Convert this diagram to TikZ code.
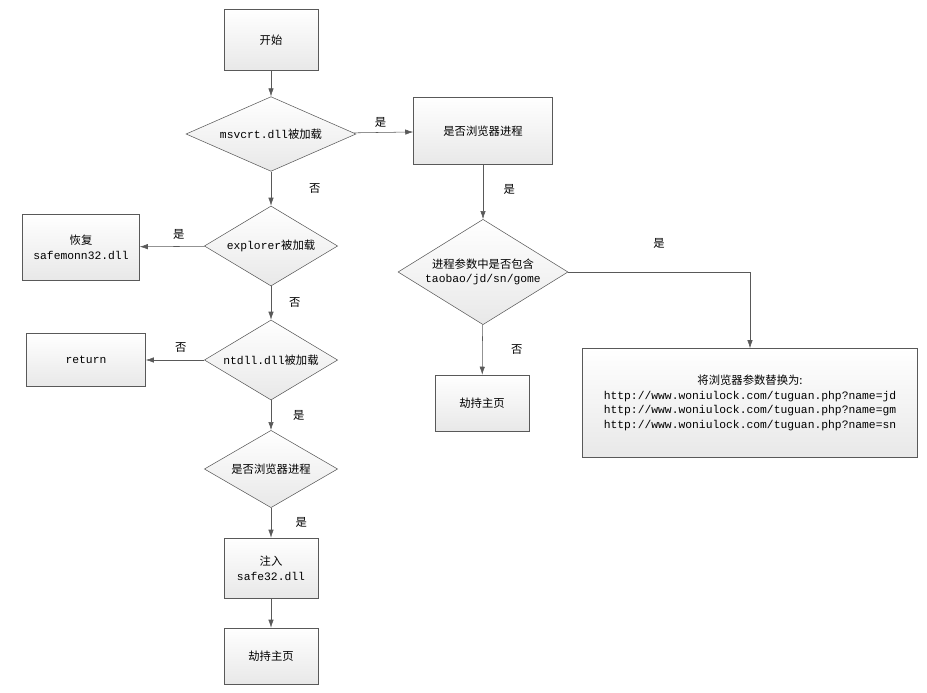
\documentclass[tikz,border=0pt]{standalone}
\usepackage{fontspec}
\setmainfont{Liberation Mono}
\newfontfamily\cjk{Noto Sans CJK SC}
\usetikzlibrary{shapes.geometric,arrows.meta}
\begin{document}
\begin{tikzpicture}[x=0.75pt,y=-0.75pt,font=\fontsize{8.5}{11}\selectfont,
  box/.style={draw=gray!70!black,top color=white,bottom color=gray!18,inner sep=0pt,align=center},
  dia/.style={draw=gray!70!black,diamond,aspect=1.7,top color=white,bottom color=gray!18,inner sep=0pt,align=center},
  flow/.style={draw=gray!70!black,-{Latex[length=6pt,width=4pt]}},
  lab/.style={font=\cjk\fontsize{8.5}{11}\selectfont}]
\useasboundingbox (0,0) rectangle (927,692);
% left column
\node[box,minimum width=70.5pt,minimum height=45.75pt] (start) at (271,40) {\cjk 开始};
\node[dia,minimum width=127.5pt,minimum height=56pt] (msv) at (271,134) {msvcrt.dll{\cjk 被加载}};
\node[dia,minimum width=100pt,minimum height=60pt] (exp) at (271,246) {explorer{\cjk 被加载}};
\node[box,minimum width=87.75pt,minimum height=49.5pt] (rec) at (81,247) {{\cjk 恢复}\\safemonn32.dll};
\node[dia,minimum width=100pt,minimum height=60pt] (ntd) at (271,360) {ntdll.dll{\cjk 被加载}};
\node[box,minimum width=89.25pt,minimum height=39.75pt] (ret) at (86,360) {return};
\node[dia,minimum width=100pt,minimum height=58pt] (brw) at (271,469) {\cjk 是否浏览器进程};
\node[box,minimum width=70.5pt,minimum height=45pt] (inj) at (271,568) {{\cjk 注入}\\safe32.dll};
\node[box,minimum width=70.5pt,minimum height=42pt] (hj) at (271,656) {\cjk 劫持主页};
% right column
\node[box,minimum width=104.25pt,minimum height=50.25pt] (isb) at (483,131) {\cjk 是否浏览器进程};
\node[dia,minimum width=127.5pt,minimum height=79pt] (arg) at (483,272) {{\cjk 进程参数中是否包含}\\taobao/jd/sn/gome};
\node[box,minimum width=70.5pt,minimum height=42pt] (hj2) at (482,403) {\cjk 劫持主页};
\node[box,minimum width=251.25pt,minimum height=81.75pt] (rep) at (750,403)
  {{\cjk 将浏览器参数替换为:}\\http://www.woniulock.com/tuguan.php?name=jd\\http://www.woniulock.com/tuguan.php?name=gm\\http://www.woniulock.com/tuguan.php?name=sn};
% connectors
\draw[flow] (start) -- (msv);
\draw[flow] (msv) -- (isb) node[lab,pos=0.45,above] {是};
\draw[flow] (msv) -- (exp) node[lab,pos=0.5,right=25pt] {否};
\draw[flow] (exp) -- (rec) node[lab,pos=0.4,above=2pt] {是};
\draw[flow] (exp) -- (ntd) node[lab,pos=0.5,right=10pt] {否};
\draw[flow] (ntd) -- (ret) node[lab,pos=0.4,above=2pt] {否};
\draw[flow] (ntd) -- (brw) node[lab,pos=0.5,right=13pt] {是};
\draw[flow] (brw) -- (inj) node[lab,pos=0.5,right=15pt] {是};
\draw[flow] (inj) -- (hj);
\draw[flow] (isb) -- (arg) node[lab,pos=0.45,right=12pt] {是};
\draw[flow] (arg) -- (hj2) node[lab,pos=0.5,right=18pt] {否};
\draw[flow] (arg.east) -| (rep.north) node[lab,pos=0.25,above=14pt] {是};
\end{tikzpicture}
\end{document}
